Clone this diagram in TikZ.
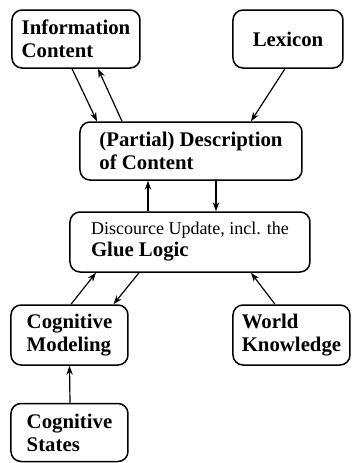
\documentclass[tikz,border=0pt]{standalone}
\usepackage{fontspec}
\setmainfont{Liberation Serif}
\usetikzlibrary{arrows.meta}

\begin{document}
\begin{tikzpicture}[x=0.5pt, y=-0.5pt,
        box/.style={draw, line width=0.75pt, rounded corners=5pt, align=left,
            inner sep=2pt, minimum height=29pt,
            font=\fontsize{10.4}{11.5}\selectfont\bfseries},
        arr/.style={line width=0.6pt, -{Stealth[length=4.5pt, width=3.2pt]}}]
        \useasboundingbox (0,0) rectangle (352,463);

        % les boites
        \node[box, minimum width=64pt] (info) at (76,39) {Information\\Content};
        \node[box, minimum width=55pt] (lex) at (288,39) {Lexicon};
        \node[box, minimum width=111pt] (desc) at (191,151) {(Partial) Description\\of Content};
        \node[box, minimum width=120pt, minimum height=30pt] (disc) at (190,242)
            {{\fontsize{9}{10}\selectfont\mdseries Discource Update, incl. the}\\[-0.5pt]Glue Logic};
        \node[box, minimum width=58.5pt, minimum height=30pt] (cogmod) at (69.5,335) {Cognitive\\Modeling};
        \node[box, minimum width=58.5pt, minimum height=30pt] (world) at (291.5,335) {World\\Knowledge};
        \node[box, minimum width=58.5pt] (cogst) at (69.5,432.5) {Cognitive\\States};

        % les fleches
        \draw[arr] ([xshift=-2pt]info.south) -- ([xshift=-47pt]desc.north);
        \draw[arr] ([xshift=-34.5pt]desc.north) -- ([xshift=11pt]info.south);
        \draw[arr] ([xshift=-1.5pt]lex.south) -- ([xshift=30pt]desc.north);
        \draw[arr] ([xshift=-21pt]disc.north) -- ([xshift=-21.5pt]desc.south);
        \draw[arr] ([xshift=12.5pt]desc.south) -- ([xshift=13pt]disc.north);
        \draw[arr] ([xshift=0.75pt]cogmod.north) -- ([xshift=-47pt]disc.south);
        \draw[arr] ([xshift=-25.5pt]disc.south) -- ([xshift=22pt]cogmod.north);
        \draw[arr] ([xshift=-8.25pt]world.north) -- ([xshift=30.5pt]disc.south);
        \draw[arr] ([xshift=0.25pt]cogst.north) -- (cogmod.south);
    \end{tikzpicture}
\end{document}
